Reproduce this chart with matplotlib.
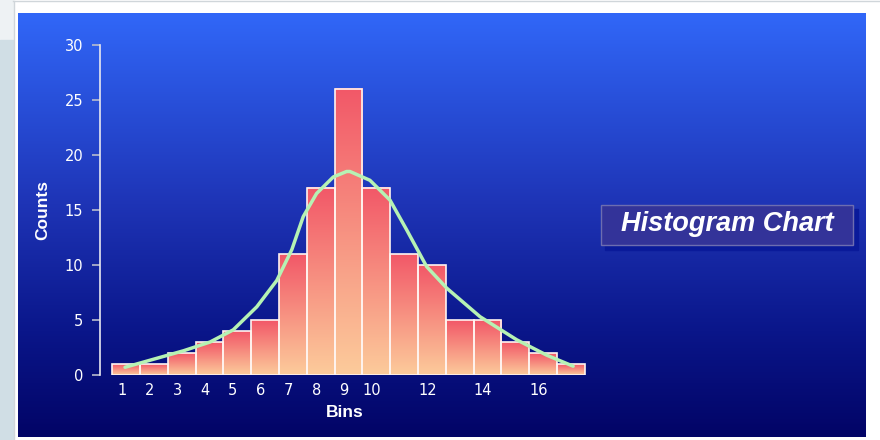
import numpy as np
import matplotlib.pyplot as plt
from matplotlib.colors import LinearSegmentedColormap
from matplotlib.patches import Rectangle


bins = list(range(1, 18))
counts = [1, 1, 2, 3, 4, 5, 11, 17, 26, 17, 11, 10, 5, 5, 3, 2, 1]

tick_positions = [1, 2, 3, 4, 5, 6, 7, 8, 9, 10, 12, 14, 16]
tick_labels = ["1", "2", "3", "4", "5", "6", "7", "8", "9", "10", "12", "14", "16"]

curve_x = [1.12, 2.14, 3.22, 4.18, 5.01, 5.86, 6.58, 7.12, 7.53, 8.01, 8.61,
           9.09, 9.21, 9.93, 10.65, 11.25, 11.97, 12.69, 13.89, 15.21, 16.29, 17.24]
curve_y = [0.7, 1.43, 2.2, 3.0, 4.1, 6.2, 8.6, 11.4, 14.4, 16.5, 18.0,
           18.5, 18.5, 17.7, 15.9, 13.2, 9.85, 7.9, 5.3, 3.2, 1.8, 0.8]

y_ticks = [0, 5, 10, 15, 20, 25, 30]

plt.rcParams["font.family"] = ["Liberation Sans", "DejaVu Sans"]

W, H = 880, 440
fig = plt.figure(figsize=(8.8, 4.4), dpi=100)

# background: page, white frame, blue gradient panel
bg = fig.add_axes([0, 0, 1, 1], zorder=0)
bg.set_xlim(0, W)
bg.set_ylim(H, 0)
bg.axis("off")
bg.add_patch(Rectangle((0, 0), W, H, color="white", zorder=0))
bg.add_patch(Rectangle((0, 0), 13, 40, color="#eef2f4", zorder=1))
bg.add_patch(Rectangle((0, 40), 13, 400, color="#d0dee5", zorder=1))
bg.plot([13, W], [1.5, 1.5], color="#d0d6da", lw=1, zorder=1)
bg.plot([13.5, 13.5], [1.5, H], color="#d0d6da", lw=1, zorder=1)

panel_cmap = LinearSegmentedColormap.from_list(
    "panel",
    [(0.0, (49 / 255, 103 / 255, 248 / 255)),
     (0.45, (30 / 255, 52 / 255, 182 / 255)),
     (0.75, (10 / 255, 22 / 255, 138 / 255)),
     (1.0, (2 / 255, 4 / 255, 102 / 255))],
)
grad = np.linspace(0, 1, 256).reshape(-1, 1)
bg.imshow(grad, cmap=panel_cmap, aspect="auto", extent=(18, 866, 437, 13),
          origin="upper", interpolation="bicubic", zorder=2)
bg.set_xlim(0, W)
bg.set_ylim(H, 0)

# title box with shadow
bg.add_patch(Rectangle((605, 209), 253, 41, color="#0a1a9a", zorder=3))
bg.add_patch(Rectangle((601, 205), 252, 40, facecolor="#333399",
                       edgecolor="#6d6db0", lw=1, zorder=4))
bg.text(727, 224, "Histogram Chart", color="white", fontsize=19.5,
        fontweight="bold", fontstyle="italic", ha="center", va="center", zorder=5)

# main chart
unit = 27.8
x0_px = 121.7
xmin = 1 + (100 - x0_px) / unit
xmax = 17.8
left = 100 / W
right = (x0_px + (xmax - 1) * unit) / W
bottom = 1 - 375 / H
top = 1 - 45 / H
ax = fig.add_axes([left, bottom, right - left, top - bottom], zorder=1)
ax.patch.set_alpha(0)

bar_cmap = LinearSegmentedColormap.from_list("bar", ["#fccb9b", "#f25868"])
bar_grad = np.linspace(0, 1, 128).reshape(-1, 1)
offset = 0.34
for b, c in zip(bins, counts):
    x_left = b - offset
    ax.imshow(bar_grad, cmap=bar_cmap, aspect="auto", origin="lower",
              extent=(x_left, x_left + 1, 0, c), zorder=2, interpolation="bicubic")
    ax.add_patch(Rectangle((x_left, 0), 1, c, fill=False, edgecolor="#fff4f0",
                           lw=1.2, zorder=3))

ax.plot(curve_x, curve_y, color="#b6f2b4", lw=2.5, zorder=4,
        solid_joinstyle="round", solid_capstyle="round")

ax.set_xlim(xmin, xmax)
ax.set_ylim(0, 30)
ax.set_yticks(y_ticks)
ax.set_xticks(tick_positions)
ax.set_xticklabels(tick_labels)

for side in ["top", "right", "bottom"]:
    ax.spines[side].set_visible(False)
ax.spines["left"].set_color("#e8e8f0")
ax.spines["left"].set_linewidth(1.2)

ax.tick_params(axis="y", colors="#b8bccc", labelcolor="white", length=6,
               width=1.2, pad=6)
ax.tick_params(axis="x", length=0, pad=6, labelcolor="white")
for label in ax.get_xticklabels() + ax.get_yticklabels():
    label.set_fontfamily(["DejaVu Sans"])
    label.set_fontsize(10.5)

ax.set_ylabel("Counts", color="white", fontsize=12.5, fontweight="bold", labelpad=10)
ax.set_xlabel("Bins", color="white", fontsize=12.5, fontweight="bold", labelpad=5)

fig.savefig("out.png", dpi=100)
